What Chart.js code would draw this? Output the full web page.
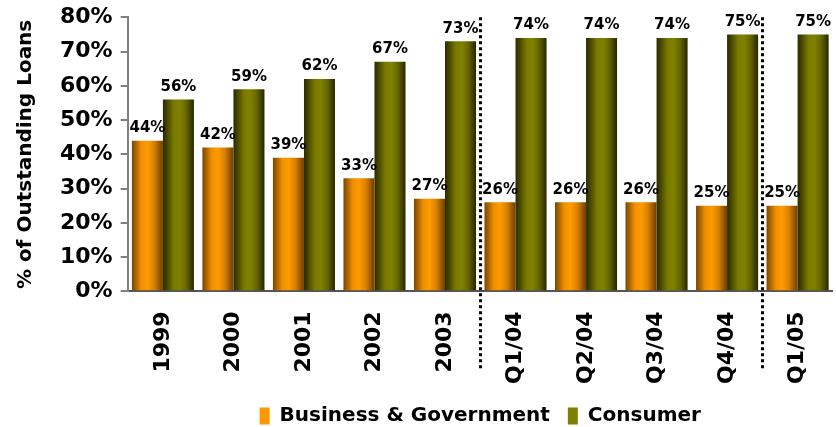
<!DOCTYPE html>
<html>
<head>
    <title>Outstanding Loans</title>
    <script src="https://cdn.jsdelivr.net/npm/chart.js"></script>
    <style>body { margin: 0; background: #fff; }</style>
</head>
<body>
<canvas id="loanChart" width="836" height="427"></canvas>

<script>
    // chart data
    const categories = ['1999', '2000', '2001', '2002', '2003', 'Q1/04', 'Q2/04', 'Q3/04', 'Q4/04', 'Q1/05'];
    const businessGov = [44, 42, 39, 33, 27, 26, 26, 26, 25, 25];
    const consumer = [56, 59, 62, 67, 73, 74, 74, 74, 75, 75];
    const yMax = 80;
    const yStep = 10;
    const dividerAfter = [4, 8];   // dotted separators after these categories

    const FONT = '"DejaVu Sans", Verdana, sans-serif';

    // horizontal shading of the bars
    const orangeShades = [[0, '#7a4600'], [0.12, '#a86200'], [0.3, '#f09000'], [0.5, '#ff9a00'], [0.72, '#d88200'], [0.88, '#9a5a00'], [1, '#6e3e00']];
    const greenShades = [[0, '#2a2a00'], [0.15, '#4a4a00'], [0.35, '#7a7a00'], [0.55, '#808000'], [0.75, '#666600'], [0.9, '#404000'], [1, '#262600']];

    const barShading = {
        id: 'barShading',
        beforeDatasetsDraw(chart) {
            const ctx = chart.ctx;
            chart.data.datasets.forEach((ds, i) => {
                chart.getDatasetMeta(i).data.forEach(bar => {
                    const left = bar.x - bar.width / 2;
                    const g = ctx.createLinearGradient(left, 0, left + bar.width, 0);
                    ds.shades.forEach(s => g.addColorStop(s[0], s[1]));
                    bar.options = Object.assign({}, bar.options, { backgroundColor: g });
                });
            });
        }
    };

    const valueLabels = {
        id: 'valueLabels',
        afterDatasetsDraw(chart) {
            const ctx = chart.ctx;
            ctx.save();
            ctx.font = 'bold 15px ' + FONT;
            ctx.fillStyle = '#000';
            ctx.textAlign = 'center';
            ctx.textBaseline = 'bottom';
            chart.data.datasets.forEach((ds, i) => {
                chart.getDatasetMeta(i).data.forEach((bar, j) => {
                    ctx.fillText(ds.data[j] + '%', bar.x, bar.y - 5);
                });
            });
            ctx.restore();
        }
    };

    const dividers = {
        id: 'dividers',
        afterDatasetsDraw(chart) {
            const ctx = chart.ctx;
            const x = chart.scales.x;
            ctx.save();
            ctx.strokeStyle = '#000';
            ctx.lineWidth = 3;
            ctx.setLineDash([3, 3]);
            dividerAfter.forEach(idx => {
                const px = Math.round((x.getPixelForValue(idx) + x.getPixelForValue(idx + 1)) / 2) + 0.5;
                ctx.beginPath();
                ctx.moveTo(px, chart.chartArea.top);
                ctx.lineTo(px, chart.chartArea.bottom + 80);
                ctx.stroke();
            });
            ctx.restore();
        }
    };

    new Chart(document.getElementById('loanChart'), {
        type: 'bar',
        data: {
            labels: categories,
            datasets: [{
                label: 'Business & Government  ',
                data: businessGov,
                backgroundColor: '#ff9900',
                shades: orangeShades
            }, {
                label: 'Consumer',
                data: consumer,
                backgroundColor: '#808000',
                shades: greenShades
            }]
        },
        options: {
            responsive: false,
            animation: false,
            layout: { padding: { top: 0, right: 0, left: 14, bottom: -9 } },
            datasets: {
                bar: { categoryPercentage: 0.88, barPercentage: 1 }
            },
            plugins: {
                tooltip: { enabled: false },
                legend: {
                    position: 'bottom',
                    fullSize: false,
                    labels: {
                        color: '#000',
                        font: { family: FONT, size: 20, weight: 'bold' },
                        boxWidth: 10,
                        boxHeight: 17,
                        padding: 4
                    }
                }
            },
            scales: {
                x: {
                    grid: { display: false },
                    border: { color: '#555', width: 2 },
                    afterFit: scale => { scale.height += 6; },
                    ticks: {
                        color: '#000',
                        minRotation: 90,
                        maxRotation: 90,
                        padding: 12,
                        font: { family: FONT, size: 22, weight: 'bold' }
                    }
                },
                y: {
                    min: 0,
                    max: yMax,
                    grid: { drawOnChartArea: false, color: '#808080', tickLength: 7, lineWidth: 2 },
                    border: { color: '#808080', width: 2 },
                    ticks: {
                        stepSize: yStep,
                        color: '#000',
                        padding: 8,
                        font: { family: FONT, size: 22, weight: 'bold', lineHeight: 0.85 },
                        callback: v => v + '%'
                    },
                    title: {
                        display: true,
                        text: '% of Outstanding Loans',
                        color: '#000',
                        font: { family: FONT, size: 20, weight: 'bold' },
                        padding: { top: 0, bottom: 14 }
                    }
                }
            }
        },
        plugins: [barShading, valueLabels, dividers]
    });
</script>
</body>
</html>
